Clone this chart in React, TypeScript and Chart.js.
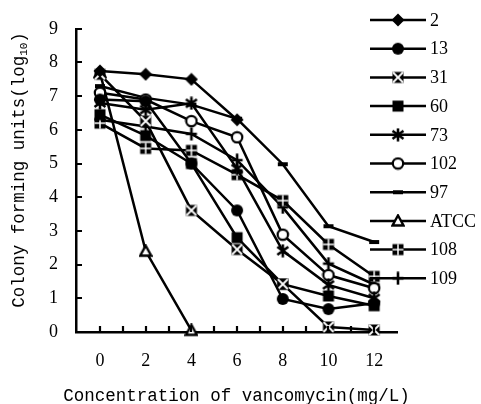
import React, { useEffect, useRef } from 'react';
import { Chart, registerables } from 'chart.js';

Chart.register(...registerables);

// ---- data ----
const concentrations = [0, 2, 4, 6, 8, 10, 12];
const xTickValues = [0, 1, 2, 3, 4, 5, 6, 7, 8, 9, 10, 11, 12];
const xLabelValues = [0, 2, 4, 6, 8, 10, 12];
const yTickValues = [0, 1, 2, 3, 4, 5, 6, 7, 8, 9];

const seriesNames = ['2', '13', '31', '60', '73', '102', '97', 'ATCC', '108', '109'];
const s2 = [7.75, 7.65, 7.5, 6.3, null, null, null];
const s13 = [6.9, 6.85, 5.0, 3.61, 0.98, 0.68, 0.85];
const s31 = [7.65, 6.26, 3.61, 2.45, 1.42, 0.15, 0.06];
const s60 = [6.45, 5.83, 5.0, 2.8, 1.42, 1.07, 0.78];
const s73 = [6.8, 6.6, 6.79, 4.85, 2.41, 1.4, 1.0];
const s102 = [7.1, 6.9, 6.26, 5.78, 2.89, 1.69, 1.3];
const s97 = [7.3, 6.95, 6.75, 6.33, 4.98, 3.14, 2.67];
const sATCC = [7.7, 2.4, 0.05, null, null, null, null];
const s108 = [6.2, 5.45, 5.39, 4.67, 3.9, 2.6, 1.65];
const s109 = [6.3, 6.1, 5.88, 5.1, 3.7, 2.03, 1.41];
const seriesValues = [s2, s13, s31, s60, s73, s102, s97, sATCC, s108, s109];
const markerKinds = ['diamond', 'disc', 'hourglass', 'square', 'asterisk', 'ring', 'dash', 'triangle', 'crossSquare', 'plus'];

const xTitle = 'Concentration of vancomycin(mg/L)';
const yTitleMain = 'Colony forming units(log';
const yTitleSub = '10';
const yTitleEnd = ')';

const SERIF = "'Liberation Serif', 'Times New Roman', serif";
const MONO = "'Liberation Mono', 'DejaVu Sans Mono', monospace";

function makeMarker(kind: string): HTMLCanvasElement {
  const s = 14;
  const c = document.createElement('canvas');
  c.width = s;
  c.height = s;
  const g = c.getContext('2d')!;
  const m = s / 2;
  g.fillStyle = '#000';
  g.strokeStyle = '#000';
  g.lineCap = 'butt';
  switch (kind) {
    case 'diamond':
      g.beginPath();
      g.moveTo(m, 0.5); g.lineTo(s - 0.5, m); g.lineTo(m, s - 0.5); g.lineTo(0.5, m);
      g.closePath(); g.fill();
      break;
    case 'disc':
      g.beginPath(); g.arc(m, m, 6, 0, Math.PI * 2); g.fill();
      break;
    case 'hourglass':
      g.fillRect(1.5, 1.5, 11, 11);
      g.strokeStyle = '#fff'; g.lineWidth = 1.8;
      g.beginPath(); g.moveTo(2, 2); g.lineTo(12, 12); g.moveTo(12, 2); g.lineTo(2, 12); g.stroke();
      break;
    case 'square':
      g.fillRect(1.5, 1.5, 11, 11);
      break;
    case 'asterisk':
      g.lineWidth = 2.6;
      g.beginPath();
      g.moveTo(m, 0.5); g.lineTo(m, s - 0.5);
      g.moveTo(1.5, 3); g.lineTo(s - 1.5, s - 3);
      g.moveTo(1.5, s - 3); g.lineTo(s - 1.5, 3);
      g.stroke();
      break;
    case 'ring':
      g.beginPath(); g.arc(m, m, 5.2, 0, Math.PI * 2);
      g.fillStyle = '#fff'; g.fill(); g.lineWidth = 2.2; g.stroke();
      break;
    case 'dash':
      g.fillRect(2, m - 2, 10, 4);
      break;
    case 'triangle':
      g.beginPath(); g.moveTo(m, 1.5); g.lineTo(s - 1.5, s - 2.5); g.lineTo(1.5, s - 2.5); g.closePath();
      g.fillStyle = '#fff'; g.fill(); g.lineWidth = 2.4; g.lineJoin = 'miter'; g.stroke();
      break;
    case 'crossSquare':
      g.fillRect(1.5, 1.5, 11, 11);
      g.fillStyle = '#fff';
      g.fillRect(m - 0.75, 1.5, 1.5, 11);
      g.fillRect(1.5, m - 0.75, 11, 1.5);
      break;
    case 'plus':
      g.lineWidth = 2.6;
      g.beginPath(); g.moveTo(m, 0.5); g.lineTo(m, s - 0.5); g.moveTo(1.5, m); g.lineTo(s - 1.5, m); g.stroke();
      break;
  }
  return c;
}

const innerTicks = {
  id: 'innerTicks',
  afterDraw(chart: any) {
    const { ctx, chartArea, scales } = chart;
    ctx.save();
    ctx.strokeStyle = '#000';
    ctx.lineWidth = 2.2;
    ctx.beginPath();
    for (const v of xTickValues) {
      const px = Math.round(scales.x.getPixelForValue(v));
      ctx.moveTo(px, chartArea.bottom);
      ctx.lineTo(px, chartArea.bottom - 6);
    }
    for (const v of yTickValues) {
      const py = Math.round(scales.y.getPixelForValue(v));
      ctx.moveTo(chartArea.left, py);
      ctx.lineTo(chartArea.left + 6, py);
    }
    ctx.stroke();
    ctx.restore();
  },
};

const titles = {
  id: 'titles',
  afterDraw(chart: any) {
    const { ctx, chartArea } = chart;
    ctx.save();
    ctx.fillStyle = '#000';
    ctx.font = `17.5px ${MONO}`;
    ctx.textAlign = 'center';
    ctx.textBaseline = 'middle';
    ctx.fillText(xTitle, (chartArea.left + chartArea.right) / 2, 396);

    const cy = 170;
    ctx.translate(19, cy);
    ctx.rotate(-Math.PI / 2);
    ctx.textAlign = 'left';
    const mainFont = `17.5px ${MONO}`;
    const subFont = `11px ${MONO}`;
    ctx.font = mainFont;
    const w1 = ctx.measureText(yTitleMain).width;
    const w3 = ctx.measureText(yTitleEnd).width;
    ctx.font = subFont;
    const w2 = ctx.measureText(yTitleSub).width;
    const total = w1 + w2 + w3;
    let x0 = -total / 2;
    ctx.font = mainFont;
    ctx.fillText(yTitleMain, x0, 0);
    x0 += w1;
    ctx.font = subFont;
    ctx.fillText(yTitleSub, x0, 5);
    x0 += w2;
    ctx.font = mainFont;
    ctx.fillText(yTitleEnd, x0, 0);
    ctx.restore();
  },
};

const customLegend = {
  id: 'customLegend',
  afterDatasetsDraw(chart: any) {
    const { ctx } = chart;
    const ds = chart.data.datasets;
    ctx.save();
    ctx.font = `18px ${SERIF}`;
    ctx.textAlign = 'left';
    ctx.textBaseline = 'middle';
    ctx.fillStyle = '#000';
    ds.forEach((d: any, i: number) => {
      const y = 20 + i * 28.7;
      ctx.strokeStyle = '#000';
      ctx.lineWidth = 2.5;
      ctx.beginPath();
      ctx.moveTo(370, y);
      ctx.lineTo(426, y);
      ctx.stroke();
      const img = d.pointStyle as HTMLCanvasElement;
      ctx.drawImage(img, 398 - img.width / 2, y - img.height / 2);
      ctx.fillText(d.label, 430, y + 1);
    });
    ctx.restore();
  },
};

export default function App() {
  const ref = useRef<HTMLCanvasElement | null>(null);

  useEffect(() => {
    if (!ref.current) return;
    const datasets = seriesNames.map((name, i) => ({
      label: name,
      data: concentrations.map((c, j) => ({ x: c, y: seriesValues[i][j] })),
      borderColor: '#000',
      backgroundColor: '#000',
      borderWidth: 2.5,
      pointStyle: makeMarker(markerKinds[i]),
      pointRadius: 6,
      tension: 0,
      clip: false as any,
      spanGaps: false,
    }));

    const chart = new Chart(ref.current, {
      type: 'line',
      data: { datasets },
      plugins: [innerTicks, titles, customLegend],
      options: {
        animation: false,
        responsive: false,
        events: [],
        layout: { padding: { top: 20, right: 84, left: 0, bottom: 0 } },
        plugins: {
          legend: { display: false },
          tooltip: { enabled: false },
        },
        scales: {
          x: {
            type: 'linear',
            min: -1.05,
            max: 13,
            grid: { display: false, drawTicks: false },
            border: { display: true, color: '#000', width: 2.5 },
            ticks: {
              color: '#000',
              font: { family: SERIF, size: 18 },
              padding: 18,
              autoSkip: false,
              maxRotation: 0,
              callback: (v: any) => (xLabelValues.includes(Number(v)) ? String(v) : ''),
            },
            afterBuildTicks: (s: any) => {
              s.ticks = xTickValues.map((v) => ({ value: v }));
            },
            afterFit: (s: any) => {
              s.height = 72;
            },
          },
          y: {
            type: 'linear',
            min: 0,
            max: 9,
            grid: { display: false, drawTicks: false },
            border: { display: true, color: '#000', width: 2.5 },
            ticks: {
              color: '#000',
              font: { family: SERIF, size: 18 },
              padding: 18,
              autoSkip: false,
            },
            afterBuildTicks: (s: any) => {
              s.ticks = yTickValues.map((v) => ({ value: v }));
            },
            afterFit: (s: any) => {
              s.width = 76;
            },
          },
        },
      } as any,
    });
    return () => chart.destroy();
  }, []);

  return (
    <div style={{ position: 'fixed', left: 0, top: 0, width: 481, height: 404, background: '#fff' }}>
      <canvas ref={ref} width={481} height={404} style={{ display: 'block', width: 481, height: 404 }} />
    </div>
  );
}
